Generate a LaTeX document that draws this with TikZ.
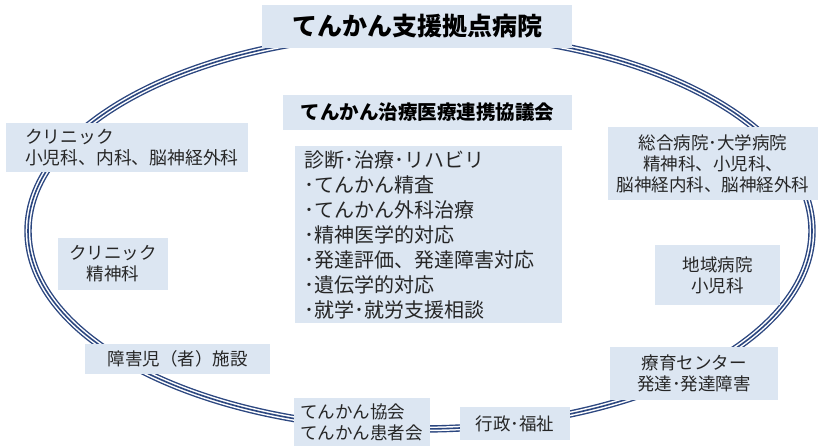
\documentclass[tikz,border=0pt]{standalone}
\usepackage{fontspec}
\newfontfamily\cjk{Noto Sans CJK JP}
\definecolor{boxfill}{HTML}{DCE6F2}
\definecolor{ringblue}{HTML}{2C4780}
\begin{document}
\begin{tikzpicture}[x=1pt,y=-1pt,
  bx/.style={fill=boxfill, inner sep=0pt, font=\cjk\fontsize{17.5}{21}\selectfont, text=black!85, align=center},
  ttl/.style={bx, font=\cjk\bfseries\fontsize{25}{29}\selectfont, text=black}]
\useasboundingbox (0,0) rectangle (827,446);
% ring
\draw[ringblue, line width=7.4pt] (420,231) ellipse [x radius=392, y radius=198];
\draw[white, line width=4.6pt] (420,231) ellipse [x radius=392, y radius=198];
\draw[ringblue, line width=1.6pt] (420,231) ellipse [x radius=392, y radius=198];
% boxes
\node[ttl, minimum width=310, minimum height=43] (hub) at (417,26.5) {てんかん支援拠点病院};
\node[bx, font=\cjk\bfseries\fontsize{19.5}{23}\selectfont, text=black, minimum width=289, minimum height=35] (council) at (427.5,112.5) {てんかん治療医療連携協議会};
\node[bx, minimum width=267, minimum height=177, align=left, font=\cjk\fontsize{20}{25}\selectfont] (core) at (428.5,234.5) {\parbox{248pt}{診断･治療･リハビリ\\･てんかん精査\\･てんかん外科治療\\･精神医学的対応\\･発達評価、発達障害対応\\･遺伝学的対応\\･就学･就労支援相談}};
\node[bx, minimum width=242, minimum height=49, align=left, font=\cjk\fontsize{17.8}{21}\selectfont] (clinic1) at (127,147.5) {\parbox{232pt}{\hspace*{14pt}クリニック\\\hspace*{14pt}小児科、内科、脳神経外科}};
\node[bx, minimum width=210, minimum height=73] (general) at (713,163.5) {総合病院･大学病院\\精神科、小児科、\\脳神経内科、脳神経外科};
\node[bx, minimum width=110, minimum height=52] (clinic2) at (113,264) {クリニック\\精神科};
\node[bx, minimum width=125, minimum height=60] (regional) at (717.5,275) {地域病院\\小児科};
\node[bx, minimum width=185, minimum height=30] (facility) at (177.5,359) {障害児（者）施設};
\node[bx, minimum width=168, minimum height=53] (center) at (694,373.5) {療育センター\\発達･発達障害};
\node[bx, minimum width=136, minimum height=48, align=left] (assoc) at (362,422) {\parbox{124pt}{てんかん協会\\てんかん患者会}};
\node[bx, minimum width=110, minimum height=33] (admin) at (515,423.5) {行政･福祉};
\end{tikzpicture}
\end{document}
